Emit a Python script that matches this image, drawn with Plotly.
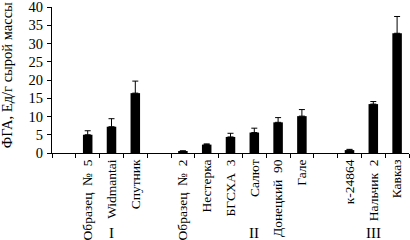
import plotly.graph_objects as go

NB = "\u00a0\u00a0"
categories = [" ", "Образец" + NB + "№" + NB + "5", "Widmantai", "Спутник",
              "  ", "Образец" + NB + "№" + NB + "2", "Нестерка", "БГСХА" + NB + "3", "Салют",
              "Донецкий" + NB + "90", "Гале",
              "   ", "к-24864", "Нальчик" + NB + "2", "Кавказ"]
values = [None, 5.0, 7.2, 16.4,
          None, 0.5, 2.3, 4.4, 5.6, 8.4, 10.1,
          None, 0.8, 13.4, 32.8]
errors = [0, 1.1, 2.2, 3.3,
          0, 0.1, 0.2, 1.0, 1.2, 1.3, 1.8,
          0, 0.2, 0.7, 4.6]
groups = ["I", "II", "III"]
group_centers = [categories[2], categories[8], categories[13]]
y_ticks = [0, 5, 10, 15, 20, 25, 30, 35, 40]
y_title = "ФГА, Ед/г сырой массы"

FONT = "Liberation Serif, Times New Roman, serif"

fig = go.Figure()
fig.add_trace(go.Bar(
    x=categories, y=values, width=0.4,
    marker=dict(color="black", line=dict(width=0)),
    error_y=dict(type="data", array=errors, arrayminus=[0] * len(errors),
                 symmetric=False, color="black", thickness=1, width=3),
))

fig.update_layout(
    width=410, height=240,
    margin=dict(l=52, r=1, t=7, b=87, autoexpand=False),
    plot_bgcolor="white", paper_bgcolor="white",
    showlegend=False,
    font=dict(family=FONT, color="black", size=14),
    xaxis=dict(type="category", categoryorder="array", categoryarray=categories,
               tickson="boundaries", ticks="outside", ticklen=4, tickwidth=1,
               tickcolor="black", tickangle=-90, showline=True, linecolor="black",
               linewidth=1, showgrid=False, automargin=False,
               ticklabeloverflow="allow",
               tickfont=dict(size=13.5, family=FONT),
               range=[-0.5, len(categories) - 0.5]),
    yaxis=dict(range=[0, 40], tickvals=y_ticks, ticks="outside", ticklen=4,
               tickwidth=1, tickcolor="black", showline=True, linecolor="black",
               linewidth=1, showgrid=False, zeroline=False, automargin=False,
               ticklabeloverflow="allow", ticklabelstandoff=1,
               tickfont=dict(size=14.5, family=FONT)),
    xaxis2=dict(overlaying="x", anchor="y", range=[-0.5, len(categories) - 0.5],
                tick0=-0.5, dtick=1, ticks="inside", ticklen=3, tickwidth=1,
                tickcolor="black", showticklabels=False, showgrid=False,
                zeroline=False, showline=False, side="bottom", automargin=False),
    yaxis2=dict(overlaying="y", anchor="x", range=[0, 40], tickvals=y_ticks,
                ticks="inside", ticklen=3, tickwidth=1, tickcolor="black",
                showticklabels=False, showgrid=False, zeroline=False,
                showline=False, side="left", automargin=False),
)

for g, c in zip(groups, group_centers):
    fig.add_annotation(x=c, y=-0.55, xref="x", yref="paper", text=g,
                       showarrow=False, font=dict(size=15, family=FONT),
                       xanchor="center", yanchor="middle")

fig.add_annotation(x=-0.124, y=1.045, xref="paper", yref="paper", text=y_title,
                   textangle=-90, showarrow=False, xanchor="center", yanchor="top",
                   font=dict(size=14.5, family=FONT))

fig.write_html("out.html", config={"displayModeBar": False},
               post_script="document.body.style.margin='0';document.body.style.overflow='hidden';")
